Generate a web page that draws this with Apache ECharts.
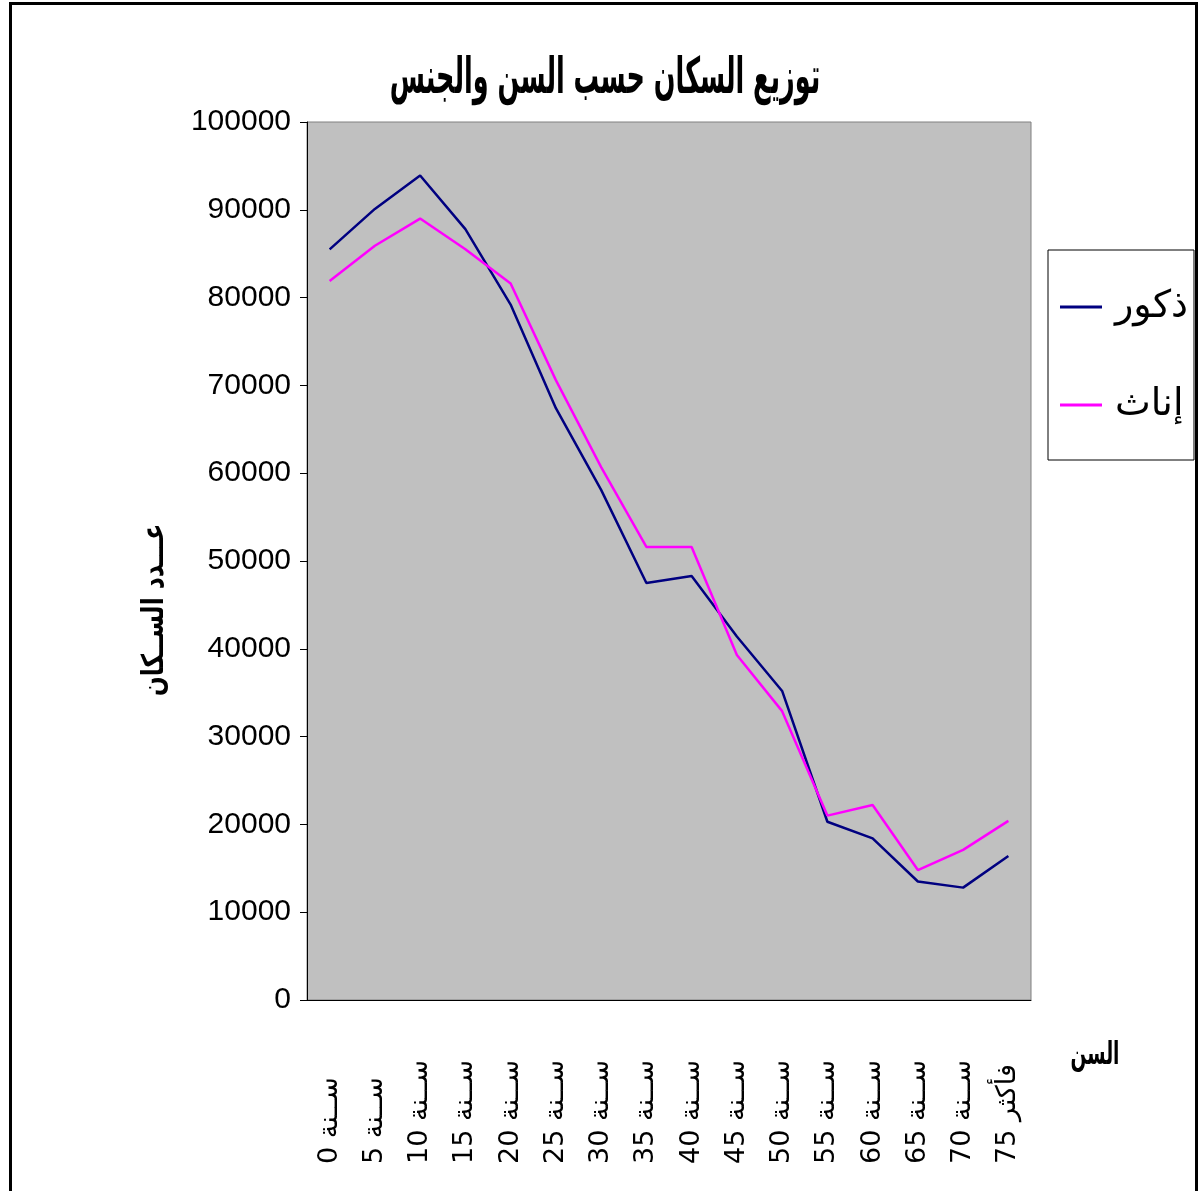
<!DOCTYPE html>
<html>
<head>
<meta charset="utf-8">
<title>توزيع السكان حسب السن والجنس</title>
<script src="https://cdn.jsdelivr.net/npm/echarts@6/dist/echarts.min.js"></script>
<style>
	html, body { margin: 0; padding: 0; background: #fff; }
	#chart { width: 1200px; height: 1191px; }
</style>
</head>
<body>
<div id="chart"></div>
<script>
// الفئات العمرية
var ageGroups = ['0 ســنة', '5 ســنة', '10 ســنة', '15 ســنة', '20 ســنة', '25 ســنة', '30 ســنة', '35 ســنة',
	'40 ســنة', '45 ســنة', '50 ســنة', '55 ســنة', '60 ســنة', '65 ســنة', '70 ســنة', '75 فأكثر'];
var males = [85500, 90100, 93900, 87800, 79200, 67400, 58100, 47500,
	48300, 41400, 35200, 20300, 18400, 13500, 12800, 16400];
var females = [81900, 85900, 89000, 85500, 81600, 70600, 60700, 51600,
	51600, 39300, 32900, 21000, 22200, 14800, 17100, 20400];
var seriesNames = ['ذكور', 'إناث'];
var yTicks = { min: 0, max: 100000, step: 10000 };

var latin = '"Liberation Sans", Arial, sans-serif';
var arabic = '"DejaVu Sans", "Noto Sans", sans-serif';

var myChart = echarts.init(document.getElementById('chart'));
var option = {
	backgroundColor: '#fff',
	animation: false,
	legend: {
		orient: 'vertical',
		left: 1048,
		top: 250,
		padding: [38, 6, 36, 12],
		itemGap: 60,
		itemWidth: 42,
		itemHeight: 3,
		icon: 'rect',
		backgroundColor: '#fff',
		borderColor: '#000',
		borderWidth: 1,
		data: seriesNames,
		textStyle: { fontFamily: arabic, fontSize: 38, color: '#000', padding: [0, 0, 0, 8] }
	},
	grid: {
		left: 307,
		top: 122,
		right: 169,
		bottom: 191,
		show: true,
		backgroundColor: '#c0c0c0',
		borderColor: '#808080',
		borderWidth: 1
	},
	xAxis: {
		type: 'category',
		data: ageGroups,
		boundaryGap: true,
		axisLine: { lineStyle: { color: '#000', width: 1 } },
		axisTick: { length: 8, lineStyle: { color: '#000' } },
		axisLabel: {
			interval: 0,
			rotate: 90,
			align: 'left',
			margin: 164,
			fontFamily: arabic,
			fontSize: 27,
			color: '#000'
		}
	},
	yAxis: {
		type: 'value',
		min: yTicks.min,
		max: yTicks.max,
		interval: yTicks.step,
		axisLine: { show: true, lineStyle: { color: '#000', width: 1 } },
		axisTick: { show: true, length: 7, lineStyle: { color: '#000' } },
		splitLine: { show: false },
		axisLabel: {
			margin: 16,
			fontFamily: latin,
			fontSize: 30,
			color: '#000',
			formatter: function(v) { return String(v); }
		}
	},
	graphic: [{
		type: 'rect',
		left: 8,
		top: 1,
		shape: { width: 1186, height: 1200 },
		style: { fill: 'none', stroke: '#000', lineWidth: 3 },
		z: 100
	}, {
		// عنوان الرسم
		type: 'text',
		x: 605,
		y: 80,
		scaleX: 0.51,
		style: {
			text: 'توزيع السكان حسب السن والجنس',
			fontFamily: arabic,
			fontSize: 50,
			fontWeight: 'bold',
			fill: '#000',
			align: 'center',
			verticalAlign: 'middle'
		}
	}, {
		type: 'text',
		x: 155,
		y: 610,
		rotation: Math.PI / 2,
		scaleX: 0.78,
		style: {
			text: 'عـــدد الســكان',
			fontFamily: arabic,
			fontSize: 30,
			fontWeight: 'bold',
			fill: '#000',
			align: 'center',
			verticalAlign: 'middle'
		}
	}, {
		type: 'text',
		x: 1095,
		y: 1056,
		scaleX: 0.58,
		style: {
			text: 'السن',
			fontFamily: arabic,
			fontSize: 32,
			fontWeight: 'bold',
			fill: '#000',
			align: 'center',
			verticalAlign: 'middle'
		}
	}],
	series: [{
		name: seriesNames[0],
		type: 'line',
		data: males,
		symbol: 'none',
		lineStyle: { color: '#000080', width: 2.5 },
		itemStyle: { color: '#000080' }
	}, {
		name: seriesNames[1],
		type: 'line',
		data: females,
		symbol: 'none',
		lineStyle: { color: '#ff00ff', width: 2.5 },
		itemStyle: { color: '#ff00ff' }
	}]
};
myChart.setOption(option);
window.onresize = function() {
	myChart.resize();
};
</script>
</body>
</html>
